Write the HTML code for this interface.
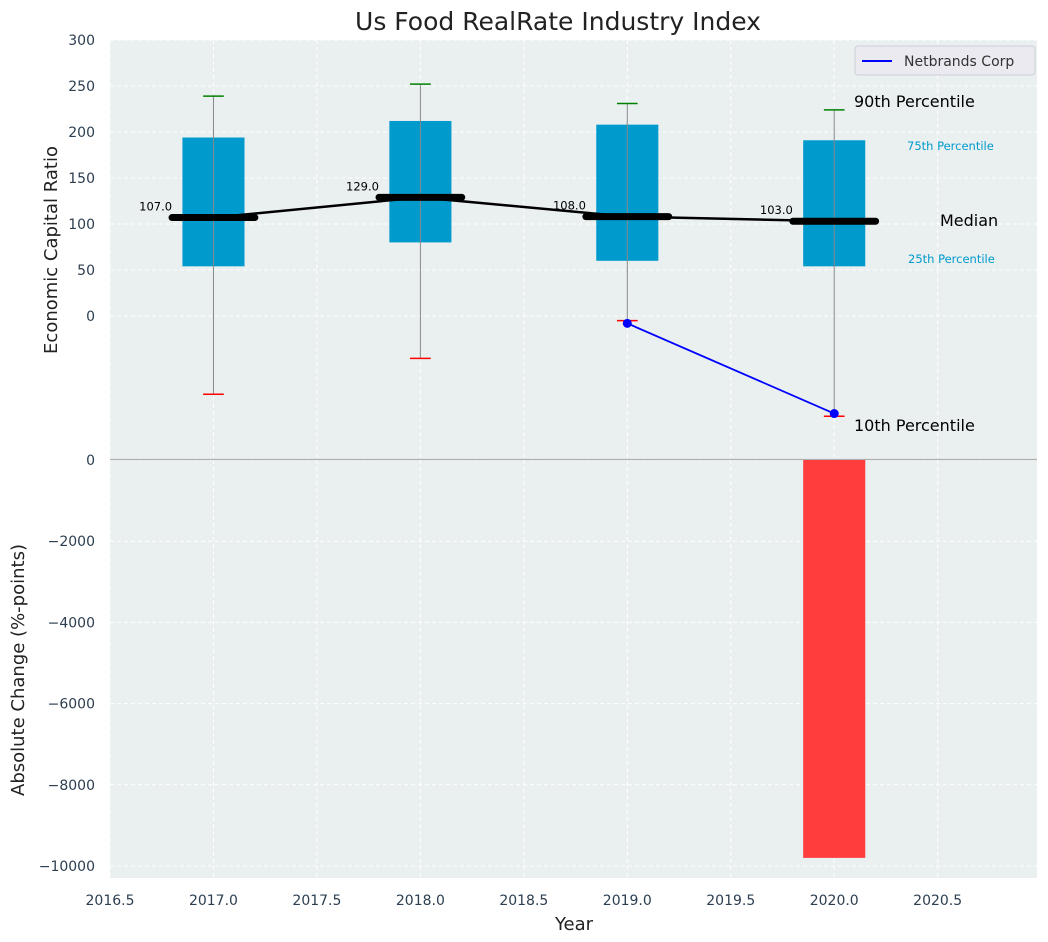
<!DOCTYPE html>
<html><head><meta charset="utf-8">
<style>
html,body{margin:0;padding:0;background:#fff;}
svg{display:block;font-family:"DejaVu Sans","Liberation Sans",sans-serif;}
</style></head>
<body>
<svg id="chart" width="1048" height="942" viewBox="0 0 1048 942"></svg>
<script>
const years = [2017, 2018, 2019, 2020];
const p10 = [-85, -46, -5, -109];
const p25 = [54, 80, 60, 54];
const medians = [107, 129, 108, 103];
const p75 = [194, 212, 208, 191];
const p90 = [239, 252, 231, 224];
const netYears = [2019, 2020];
const netValues = [-8, -106];
const changeYears = [2020];
const changeValues = [-9800];
const xTicks = [2016.5, 2017.0, 2017.5, 2018.0, 2018.5, 2019.0, 2019.5, 2020.0, 2020.5];
const topTicks = [0, 50, 100, 150, 200, 250, 300];
const botTicks = [0, -2000, -4000, -6000, -8000, -10000];

const NS = "http://www.w3.org/2000/svg";
const svg = document.getElementById('chart');
const L = 110, R = 1037, T1 = 40, B1 = 459, T2 = 459, B2 = 878;
const xMin = 2016.5, xMax = 2020.98;
const X = v => L + (v - xMin) / (xMax - xMin) * (R - L);
const Y1 = v => 316 - v * 0.92;
const Y2 = v => 460 + (-v) * 0.0406;

function mk(tag, attrs, name, parent) {
  const e = document.createElementNS(NS, tag);
  for (const k in attrs) e.setAttribute(k, attrs[k]);
  
  
  (parent || svg).appendChild(e);
  return e;
}
function txt(x, y, s, attrs, name) {
  const e = mk('text', Object.assign({x: x, y: y}, attrs), name);
  e.textContent = s;
  return e;
}

mk('rect', {x: L, y: T1, width: R - L, height: B1 - T1, fill: '#eaeff0'}, 'top-plot-area');
mk('rect', {x: L, y: T2, width: R - L, height: B2 - T2, fill: '#eaeff0'}, 'bottom-plot-area');

xTicks.forEach(t => {
  mk('line', {x1: X(t), x2: X(t), y1: T1, y2: B2, stroke: '#fff', 'stroke-dasharray': '4,3', 'stroke-width': 1}, 'x-grid-line');
  txt(X(t), 905, t.toFixed(1), {'text-anchor': 'middle', 'font-size': 14, fill: '#2c3e50'}, 'x-tick-label');
});
topTicks.forEach(t => {
  mk('line', {x1: L, x2: R, y1: Y1(t), y2: Y1(t), stroke: '#fff', 'stroke-dasharray': '4,3', 'stroke-width': 1}, 'top-y-grid-line');
  txt(L - 15, Y1(t) + 5, String(t), {'text-anchor': 'end', 'font-size': 14, fill: '#2c3e50'}, 'top-y-tick-label');
});
botTicks.forEach(t => {
  mk('line', {x1: L, x2: R, y1: Y2(t), y2: Y2(t), stroke: '#fff', 'stroke-dasharray': '4,3', 'stroke-width': 1}, 'bottom-y-grid-line');
  txt(L - 15, Y2(t) + 5, t === 0 ? '0' : '\u2212' + Math.abs(t), {'text-anchor': 'end', 'font-size': 14, fill: '#2c3e50'}, 'bottom-y-tick-label');
});
mk('line', {x1: L, x2: R, y1: 459.5, y2: 459.5, stroke: '#b0b0b0', 'stroke-width': 1.2}, 'axes-divider');

years.forEach((yr, i) => {
  const bx = X(yr - 0.15), bw = X(yr + 0.15) - X(yr - 0.15);
  mk('rect', {x: bx, y: Y1(p75[i]), width: bw, height: Y1(p25[i]) - Y1(p75[i]), fill: '#009acd'}, 'iqr-box-' + yr);
  mk('line', {x1: X(yr), x2: X(yr), y1: Y1(p90[i]), y2: Y1(p10[i]), stroke: '#888', 'stroke-width': 1}, 'whisker-' + yr);
  mk('line', {x1: X(yr - 0.05), x2: X(yr + 0.05), y1: Y1(p90[i]), y2: Y1(p90[i]), stroke: 'green', 'stroke-width': 1.5}, 'p90-cap-' + yr);
  mk('line', {x1: X(yr - 0.05), x2: X(yr + 0.05), y1: Y1(p10[i]), y2: Y1(p10[i]), stroke: 'red', 'stroke-width': 1.5}, 'p10-cap-' + yr);
});
mk('polyline', {points: years.map((yr, i) => X(yr) + ',' + Y1(medians[i])).join(' '), fill: 'none', stroke: '#000', 'stroke-width': 2.5}, 'median-trend-line');
years.forEach((yr, i) => {
  mk('line', {x1: X(yr - 0.2), x2: X(yr + 0.2), y1: Y1(medians[i]), y2: Y1(medians[i]), stroke: '#000', 'stroke-width': 7, 'stroke-linecap': 'round'}, 'median-bar-' + yr);
  txt(X(yr - 0.2), Y1(medians[i]) - 7, medians[i].toFixed(1), {'text-anchor': 'end', 'font-size': 11.5, fill: '#000'}, 'median-value-label');
});
mk('polyline', {points: netYears.map((yr, i) => X(yr) + ',' + Y1(netValues[i])).join(' '), fill: 'none', stroke: 'blue', 'stroke-width': 1.8}, 'netbrands-line');
netYears.forEach((yr, i) => mk('circle', {cx: X(yr), cy: Y1(netValues[i]), r: 4.5, fill: 'blue'}, 'netbrands-point'));

txt(854, 107, '90th Percentile', {'font-size': 16, fill: '#000'}, 'p90-annotation');
txt(907, 150, '75th Percentile', {'font-size': 11.5, fill: '#009acd'}, 'p75-annotation');
txt(940, 226, 'Median', {'font-size': 16, fill: '#000'}, 'median-annotation');
txt(908, 263, '25th Percentile', {'font-size': 11.5, fill: '#009acd'}, 'p25-annotation');
txt(854, 431, '10th Percentile', {'font-size': 16, fill: '#000'}, 'p10-annotation');

changeYears.forEach((yr, i) => {
  mk('rect', {x: X(yr - 0.15), y: Y2(0), width: X(yr + 0.15) - X(yr - 0.15), height: Y2(changeValues[i]) - Y2(0), fill: '#ff3d3d'}, 'change-bar-' + yr);
});

const lg = mk('g', {}, 'legend');
mk('rect', {x: 855, y: 46, width: 180, height: 29, rx: 3, fill: '#eaeaf0', stroke: '#cfcfd6'}, 'legend-box', lg);
mk('line', {x1: 862, x2: 892, y1: 61, y2: 61, stroke: 'blue', 'stroke-width': 2}, 'legend-line', lg);
const lt = mk('text', {x: 904, y: 66, 'font-size': 14, fill: '#333'}, 'legend-label', lg);
lt.textContent = 'Netbrands Corp';

txt(558, 30, 'Us Food RealRate Industry Index', {'text-anchor': 'middle', 'font-size': 25, fill: '#222'}, 'chart-title');
txt(574, 930, 'Year', {'text-anchor': 'middle', 'font-size': 18, fill: '#222'}, 'x-axis-title');
txt(57, 250, 'Economic Capital Ratio', {'text-anchor': 'middle', 'font-size': 18, fill: '#222', transform: 'rotate(-90 57 250)'}, 'top-y-axis-title');
txt(24, 670, 'Absolute Change (%-points)', {'text-anchor': 'middle', 'font-size': 18, fill: '#222', transform: 'rotate(-90 24 670)'}, 'bottom-y-axis-title');
</script>
</body></html>
